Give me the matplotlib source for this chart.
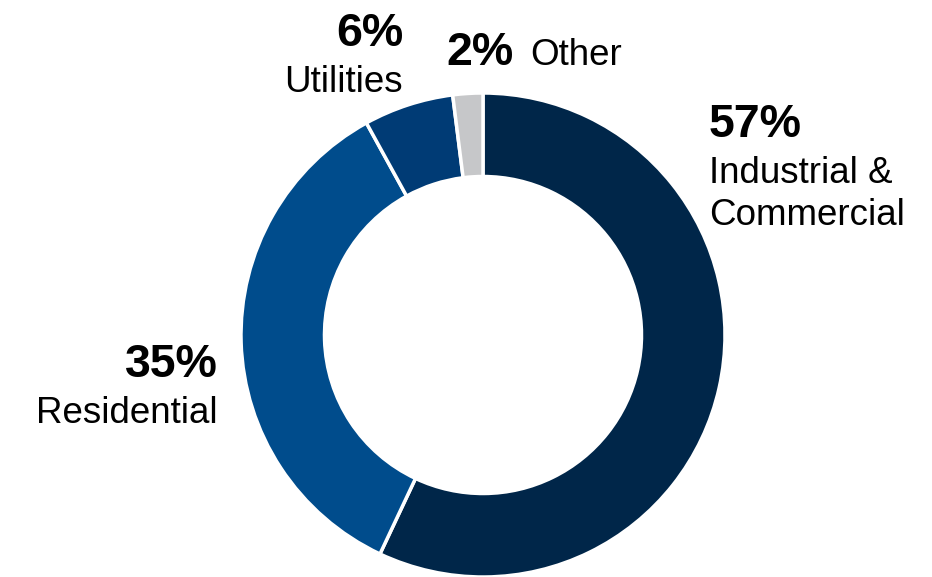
import matplotlib.pyplot as plt

# segment data
categories = ['Industrial &\nCommercial', 'Residential', 'Utilities', 'Other']
shares = [57, 35, 6, 2]
colors = ['#002649', '#004C8C', '#003B75', '#C6C7C9']

W, H = 932, 577
fig = plt.figure(figsize=(W / 100, H / 100), dpi=100)
ax = fig.add_axes([0, 0, 1, 1])

# donut centre (483, 335) px, outer radius 242 px
cx, cy, r = 483, 335, 242
ax.pie(shares, colors=colors, startangle=90, counterclock=False,
       radius=1, wedgeprops=dict(width=0.345, edgecolor='white', linewidth=2.5))
ax.set_aspect('auto')
ax.set_xlim(-cx / r, (W - cx) / r)
ax.set_ylim(-(H - cy) / r, cy / r)
ax.axis('off')

plt.rcParams['font.family'] = ['Liberation Sans', 'DejaVu Sans']
BIG, SMALL = 33.5, 26.5


def px(x, y):
    return x / W, 1 - y / H


def label(x, y, pct, name, ha, name_dy):
    fig.text(*px(x, y), f'{pct}%', fontsize=BIG, fontweight='bold',
             ha=ha, va='baseline')
    fig.text(*px(x, y + name_dy), name, fontsize=SMALL, ha=ha, va='baseline')


# Industrial & Commercial
label(709, 137, shares[0], 'Industrial &', 'left', 46)
fig.text(*px(709, 225), 'Commercial', fontsize=SMALL, ha='left', va='baseline')
# Residential
label(218, 377, shares[1], categories[1], 'right', 46)
# Utilities
label(403, 46, shares[2], categories[2], 'right', 46)
# Other
fig.text(*px(446, 65), f'{shares[3]}%', fontsize=BIG, fontweight='bold',
         ha='left', va='baseline')
fig.text(*px(530, 65), categories[3], fontsize=SMALL, ha='left', va='baseline')

fig.savefig('out.png', dpi=100, facecolor='white')
